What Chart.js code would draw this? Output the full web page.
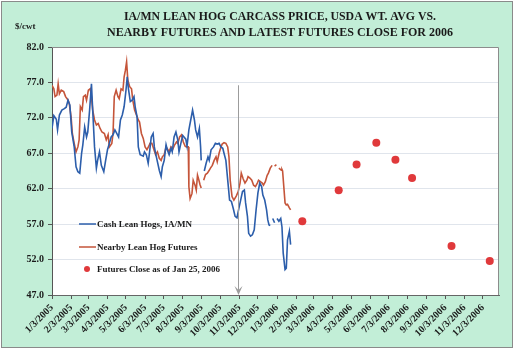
<!DOCTYPE html>
<html><head><meta charset="utf-8">
<script src="https://cdn.jsdelivr.net/npm/chart.js@4.4.1/dist/chart.umd.min.js"></script>
<style>html,body{margin:0;padding:0;background:#fff;}#wrap{width:517px;height:351px;}</style>
</head><body><div id="wrap"><canvas id="c" width="517" height="351"></canvas></div>
<script>
const titleLines = ['IA/MN LEAN HOG CARCASS PRICE, USDA WT. AVG VS.', 'NEARBY FUTURES AND LATEST FUTURES CLOSE FOR 2006'];
const yUnit = '$/cwt';
const tickLabels = ['1/3/2005','2/3/2005','3/3/2005','4/3/2005','5/3/2005','6/3/2005','7/3/2005','8/3/2005','9/3/2005','10/3/2005','11/3/2005','12/3/2005','1/3/2006','2/3/2006','3/3/2006','4/3/2006','5/3/2006','6/3/2006','7/3/2006','8/3/2006','9/3/2006','10/3/2006','11/3/2006','12/3/2006'];
const xMin = '1/3/2005', xMax = '12/29/2006';
const arrowDate = '11/1/2005', arrowTop = 76.6;
const seriesNames = ['Cash Lean Hogs, IA/MN', 'Nearby Lean Hog Futures', 'Futures Close as of Jan 25, 2006'];

const cashDates = ['1/3/2005','1/6/2005','1/10/2005','1/12/2005','1/15/2005','1/19/2005','1/23/2005','1/26/2005','1/29/2005','2/1/2005','2/4/2005','2/8/2005','2/11/2005','2/14/2005','2/17/2005','2/20/2005','2/22/2005','2/25/2005','2/28/2005','3/2/2005','3/5/2005','3/8/2005','3/10/2005','3/13/2005','3/16/2005','3/18/2005','3/21/2005','3/24/2005','3/28/2005','3/31/2005','4/3/2005','4/6/2005','4/9/2005','4/12/2005','4/15/2005','4/18/2005','4/21/2005','4/24/2005','4/27/2005','4/30/2005','5/3/2005','5/5/2005','5/7/2005','5/10/2005','5/13/2005','5/16/2005','5/18/2005','5/21/2005','5/23/2005','5/26/2005','5/31/2005','6/2/2005','6/5/2005','6/8/2005','6/10/2005','6/13/2005','6/16/2005','6/18/2005','6/21/2005','6/26/2005','6/29/2005','7/1/2005','7/4/2005','7/7/2005','7/9/2005','7/12/2005','7/15/2005','7/17/2005','7/20/2005','7/23/2005','7/26/2005','7/28/2005','7/31/2005','8/3/2005','8/8/2005','8/10/2005','8/13/2005','8/16/2005','8/19/2005','8/22/2005','8/24/2005','8/27/2005','8/30/2005','9/1/2005','9/2/2005','9/5/2005','9/7/2005','9/10/2005','9/13/2005','9/15/2005','9/18/2005','9/22/2005','9/25/2005','9/28/2005','10/1/2005','10/4/2005','10/7/2005','10/9/2005','10/12/2005','10/16/2005','10/18/2005','10/21/2005','10/24/2005','10/27/2005','10/30/2005','11/2/2005','11/5/2005','11/8/2005','11/11/2005','11/13/2005','11/16/2005','11/18/2005','11/21/2005','11/24/2005','11/27/2005','11/30/2005','12/3/2005','12/6/2005','12/9/2005','12/11/2005','12/14/2005','12/17/2005','12/19/2005','12/21/2005','12/23/2005','12/26/2005','12/27/2005','12/30/2005','1/2/2006','1/3/2006','1/6/2006','1/9/2006','1/11/2006','1/13/2006','1/16/2006','1/18/2006','1/20/2006','1/23/2006','1/25/2006'];
const cashValues = [70.5,72.3,71.8,70.3,72.4,73.1,73.3,73.5,74.5,73.8,70.0,67.9,65.1,64.4,64.2,67.0,68.2,70.7,69.3,70.0,73.1,76.8,73.1,67.9,64.9,66.0,67.2,65.3,64.4,66.0,67.5,68.4,69.3,69.6,70.3,69.8,69.3,71.7,72.4,73.6,75.9,77.8,76.1,74.3,74.5,75.0,73.5,72.1,67.9,66.8,66.6,67.2,66.8,65.6,67.0,69.3,69.8,67.9,66.6,64.6,63.7,65.1,66.0,68.2,67.5,66.8,67.7,67.2,69.3,70.0,68.9,67.2,68.4,69.5,69.0,68.0,70.3,71.7,73.1,71.7,70.3,69.3,70.5,67.9,66.0,null,64.5,65.6,66.5,66.0,67.5,67.9,68.4,68.3,68.4,67.9,67.7,67.0,66.0,62.3,60.4,60.2,59.2,58.1,57.9,59.2,60.4,61.6,61.8,60.0,58.1,55.7,55.3,55.5,56.2,59.0,61.4,62.8,62.3,61.1,60.4,59.0,57.6,56.9,56.8,null,57.8,57.2,null,57.8,57.4,57.8,56.6,52.9,50.6,50.8,54.8,56.0,54.1];

const futDates = ['1/3/2005','1/6/2005','1/8/2005','1/11/2005','1/13/2005','1/15/2005','1/18/2005','1/22/2005','1/25/2005','1/29/2005','1/31/2005','2/3/2005','2/5/2005','2/8/2005','2/11/2005','2/14/2005','2/16/2005','2/18/2005','2/21/2005','2/23/2005','2/26/2005','2/28/2005','3/3/2005','3/6/2005','3/8/2005','3/10/2005','3/13/2005','3/16/2005','3/19/2005','3/22/2005','3/25/2005','3/29/2005','4/1/2005','4/4/2005','4/6/2005','4/10/2005','4/12/2005','4/14/2005','4/17/2005','4/20/2005','4/22/2005','4/25/2005','4/28/2005','4/30/2005','5/2/2005','5/4/2005','5/6/2005','5/9/2005','5/12/2005','5/14/2005','5/17/2005','5/20/2005','5/23/2005','5/25/2005','5/28/2005','5/31/2005','6/3/2005','6/6/2005','6/9/2005','6/11/2005','6/14/2005','6/17/2005','6/20/2005','6/23/2005','6/26/2005','6/29/2005','7/1/2005','7/4/2005','7/7/2005','7/10/2005','7/12/2005','7/15/2005','7/18/2005','7/21/2005','7/24/2005','7/26/2005','7/29/2005','8/1/2005','8/4/2005','8/7/2005','8/9/2005','8/12/2005','8/13/2005','8/15/2005','8/18/2005','8/20/2005','8/23/2005','8/25/2005','8/27/2005','8/29/2005','8/31/2005','9/2/2005','9/5/2005','9/6/2005','9/9/2005','9/12/2005','9/15/2005','9/17/2005','9/20/2005','9/23/2005','9/26/2005','9/28/2005','10/1/2005','10/4/2005','10/6/2005','10/9/2005','10/12/2005','10/15/2005','10/17/2005','10/19/2005','10/22/2005','10/25/2005','10/29/2005','11/1/2005','11/4/2005','11/6/2005','11/9/2005','11/12/2005','11/15/2005','11/17/2005','11/20/2005','11/23/2005','11/26/2005','11/29/2005','12/2/2005','12/4/2005','12/7/2005','12/10/2005','12/12/2005','12/15/2005','12/18/2005','12/20/2005','12/23/2005','12/26/2005','12/27/2005','12/30/2005','1/2/2006','1/3/2006','1/6/2006','1/10/2006','1/11/2006','1/12/2006','1/16/2006','1/18/2006','1/20/2006','1/23/2006','1/25/2006'];
const futValues = [76.6,76.1,75.0,75.2,76.8,75.4,75.9,75.7,75.0,74.5,74.0,72.1,69.8,68.4,67.2,67.9,68.9,73.6,73.1,75.0,75.2,74.5,75.9,76.1,75.0,73.1,71.7,71.0,71.2,70.5,70.0,69.8,68.9,69.6,67.9,68.4,69.8,75.0,75.9,75.0,74.7,76.1,75.9,77.8,78.7,79.9,77.3,76.4,76.1,74.5,73.1,72.4,71.7,71.4,69.8,69.1,67.9,67.5,68.0,68.4,68.4,67.6,66.8,67.2,66.3,66.0,66.5,66.8,67.9,67.5,67.2,67.9,67.6,68.2,68.6,68.4,69.3,69.6,68.6,68.0,67.9,67.9,62.3,60.6,61.3,63.2,62.5,61.8,63.9,63.3,62.6,62.1,null,63.2,64.0,64.2,64.6,64.9,65.3,66.0,66.5,65.8,67.0,67.9,68.3,68.5,68.4,67.9,66.5,63.2,60.9,60.4,61.0,61.6,62.8,64.2,63.4,62.8,63.2,63.7,63.5,63.2,62.5,62.3,62.8,63.2,63.0,62.8,62.5,63.0,63.9,64.2,64.9,65.3,null,65.2,65.4,null,64.9,64.6,64.7,64.5,60.0,59.7,59.8,59.3,59.0,57.4];

const closeDates = ['2/13/2006','4/13/2006','5/12/2006','6/13/2006','7/14/2006','8/10/2006','10/13/2006','12/14/2006'];
const closeValues = [57.4,61.8,65.4,68.5,66.1,63.5,53.9,51.8];

function toDay(s){const p=s.split('/').map(Number);return Date.UTC(p[2],p[0]-1,p[1])/86400000;}
const pts=(d,v)=>d.map((s,i)=>({x:toDay(s),y:v[i]}));

const FONT = "'Liberation Serif','Times New Roman',serif";
const BLUE = '#2c5eab', RED = '#c5553a', DOT = '#e0393b', MINT = '#c2eed7';

const decor = {
  id:'decor',
  beforeDraw(chart){
    const c=chart.ctx, a=chart.chartArea;
    c.save();
    c.fillStyle='#ffffff'; c.fillRect(0,0,517,351);
    c.fillStyle=MINT; c.fillRect(1,1,512,347);
    c.strokeStyle='#8a8a8a'; c.lineWidth=1; c.strokeRect(1.5,1.5,511,346);
    c.fillStyle='#ffffff'; c.fillRect(a.left,a.top,a.right-a.left,a.bottom-a.top);
    c.restore();
  },
  afterDraw(chart){
    const c=chart.ctx, a=chart.chartArea, xs=chart.scales.x, ys=chart.scales.y;
    c.save();
    c.strokeStyle='#8c8c8c'; c.lineWidth=1;
    c.beginPath(); c.moveTo(a.left,a.top+0.5); c.lineTo(a.right-0.5,a.top+0.5); c.lineTo(a.right-0.5,a.bottom); c.stroke();
    const ax=Math.round(xs.getPixelForValue(toDay(arrowDate)))+0.5, at=ys.getPixelForValue(arrowTop), ab=a.bottom;
    c.strokeStyle='#9c9c9c'; c.beginPath(); c.moveTo(ax,at); c.lineTo(ax,ab-3); c.stroke();
    c.fillStyle='#9c9c9c'; c.beginPath(); c.moveTo(ax-4,ab-9); c.lineTo(ax,ab-5); c.lineTo(ax+4,ab-9); c.lineTo(ax,ab); c.closePath(); c.fill();
    c.fillStyle='#1a1a1a'; c.textAlign='center'; c.textBaseline='middle';
    c.font='bold 12px '+FONT;
    c.fillText(titleLines[0],280,17,312);
    c.fillText(titleLines[1],280,33,346);
    c.font='bold 9px '+FONT; c.textAlign='left';
    c.fillText(yUnit,15,27);
    const rows=[224,247,269];
    c.font='bold 9px '+FONT;
    c.lineWidth=1.5;
    c.strokeStyle=BLUE; c.beginPath(); c.moveTo(79,rows[0]); c.lineTo(96,rows[0]); c.stroke();
    c.strokeStyle=RED; c.beginPath(); c.moveTo(79,rows[1]); c.lineTo(96,rows[1]); c.stroke();
    c.fillStyle=DOT; c.beginPath(); c.arc(87,rows[2],3,0,Math.PI*2); c.fill();
    c.fillStyle='#1a1a1a';
    seriesNames.forEach((n,i)=>c.fillText(n,97,rows[i]+0.5));
    c.restore();
  }
};

new Chart(document.getElementById('c'),{
  type:'scatter',
  data:{datasets:[
    {label:seriesNames[0],data:pts(cashDates,cashValues),showLine:true,borderColor:BLUE,borderWidth:1.6,pointRadius:0,spanGaps:false,tension:0},
    {label:seriesNames[1],data:pts(futDates,futValues),showLine:true,borderColor:RED,borderWidth:1.6,pointRadius:0,spanGaps:false,tension:0},
    {label:seriesNames[2],data:pts(closeDates,closeValues),showLine:false,backgroundColor:DOT,borderWidth:0,pointRadius:4}
  ]},
  options:{
    responsive:false,animation:false,devicePixelRatio:1,
    layout:{padding:{top:47,right:18,bottom:0,left:0}},
    plugins:{legend:{display:false},tooltip:{enabled:false},title:{display:false}},
    scales:{
      x:{type:'linear',min:toDay(xMin),max:toDay(xMax),
        afterBuildTicks:(ax)=>{ax.ticks=tickLabels.map(l=>({value:toDay(l)}));},
        afterFit:(s)=>{s.height=56;s.paddingLeft=0;s.paddingRight=0;},
        ticks:{autoSkip:false,minRotation:45,maxRotation:45,callback:(v,i)=>tickLabels[i],font:{family:FONT,size:10,weight:'bold'},color:'#1a1a1a',padding:3},
        grid:{drawOnChartArea:false,tickLength:4,color:'#555'},
        border:{color:'#666'}},
      y:{min:47,max:82,
        afterFit:(s)=>{s.width=52;},
        ticks:{stepSize:5,callback:(v)=>v.toFixed(1),font:{family:FONT,size:10,weight:'bold'},color:'#1a1a1a',padding:4},
        grid:{color:'#e0e5ec',tickColor:'#555',tickLength:4},
        border:{color:'#555'}}
    }
  },
  plugins:[decor]
});
</script></body></html>
